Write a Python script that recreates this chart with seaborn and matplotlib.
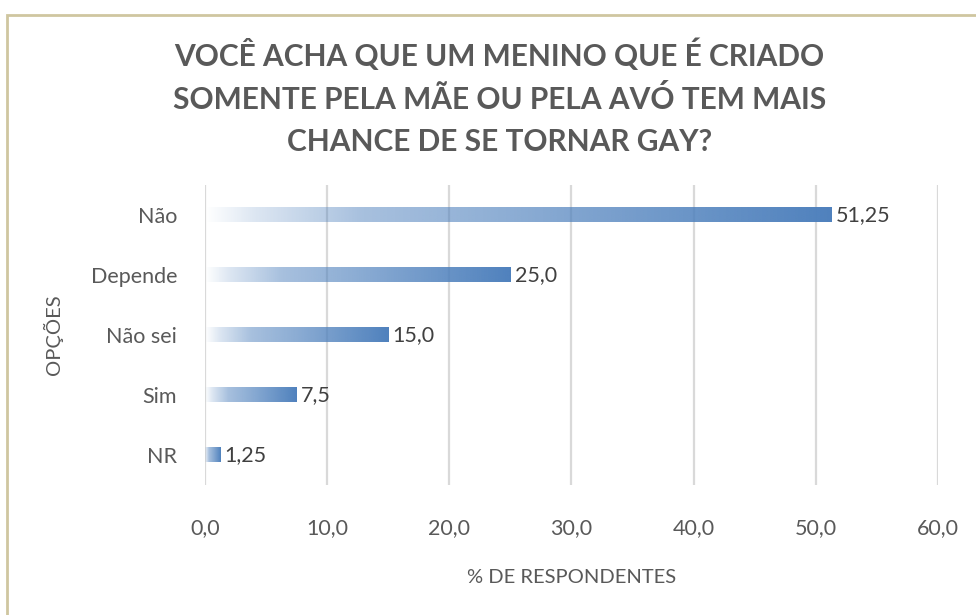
import numpy as np
import pandas as pd
import seaborn as sns
import matplotlib.pyplot as plt
from matplotlib.patches import Rectangle
from matplotlib.colors import to_rgb

# Data
categorias = ['Não', 'Depende', 'Não sei', 'Sim', 'NR']
percentuais = [51.25, 25.0, 15.0, 7.5, 1.25]
xticks = [0, 10, 20, 30, 40, 50, 60]

df = pd.DataFrame({'Opcao': categorias, 'Pct': percentuais})

sns.set_theme(style='white')
plt.rcParams['font.family'] = ['Lato', 'DejaVu Sans']

fig = plt.figure(figsize=(9.76, 6.15), dpi=100)
ax = fig.add_axes([0.210, 0.2114, 0.751, 0.4878])

azul = '#4F81BD'
sns.barplot(data=df, x='Pct', y='Opcao', orient='h', color=azul,
            width=0.25, ax=ax, zorder=3)

# gradient fill: white on the left, solid blue at the end
rgb = np.array(to_rgb(azul))
t = np.linspace(0, 1, 256)
alpha = np.interp(t, [0, 0.08, 0.25, 0.5, 1.0], [0.0, 0.2, 0.5, 0.66, 1.0])
img = np.ones((1, 256, 4))
img[0, :, :3] = rgb
img[0, :, 3] = alpha
for p in ax.patches:
    x0, y0 = p.get_x(), p.get_y()
    w, h = p.get_width(), p.get_height()
    p.set_facecolor('none')
    p.set_edgecolor('none')
    im = ax.imshow(img, extent=[x0, x0 + w, y0 + h, y0], aspect='auto',
                   zorder=3, interpolation='bilinear')
    im.set_clip_path(p)

ax.set_xlim(0, 60)
ax.set_ylim(4.5, -0.5)
ax.set_xticks(xticks)
ax.set_xticklabels([f'{v:.1f}'.replace('.', ',') for v in xticks])
ax.grid(axis='x', color='#D9D9D9', linewidth=1.6, zorder=0)
ax.grid(axis='y', visible=False)
for s in ax.spines.values():
    s.set_visible(False)
ax.tick_params(axis='x', length=0, pad=24, labelsize=15.5, labelcolor='#595959')
ax.tick_params(axis='y', length=0, pad=20, labelsize=15.5, labelcolor='#595959')

# value labels
for i, v in enumerate(percentuais):
    ax.text(v + 0.35, i, str(v).replace('.', ','), va='center', ha='left',
            fontsize=15.5, color='#404040', zorder=4)

ax.set_xlabel('% DE RESPONDENTES', fontsize=14.5, color='#595959', labelpad=22)
ax.set_ylabel('OPÇÕES', fontsize=14.5, color='#595959', labelpad=20)

fig.text(0.512, 0.842,
         'VOCÊ ACHA QUE UM MENINO QUE É CRIADO\nSOMENTE PELA MÃE OU PELA AVÓ TEM MAIS\nCHANCE DE SE TORNAR GAY?',
         ha='center', va='center', fontsize=21.5, fontweight='bold',
         color='#595959', linespacing=1.6)

# chart area border (only top and left visible)
fig.patches.append(Rectangle((7 / 976, -0.1), 1.2, 1 - 15 / 615 + 0.1,
                             transform=fig.transFigure, fill=False,
                             edgecolor='#CFC6A0', linewidth=2))

fig.savefig('out.png', dpi=100, facecolor='white')
